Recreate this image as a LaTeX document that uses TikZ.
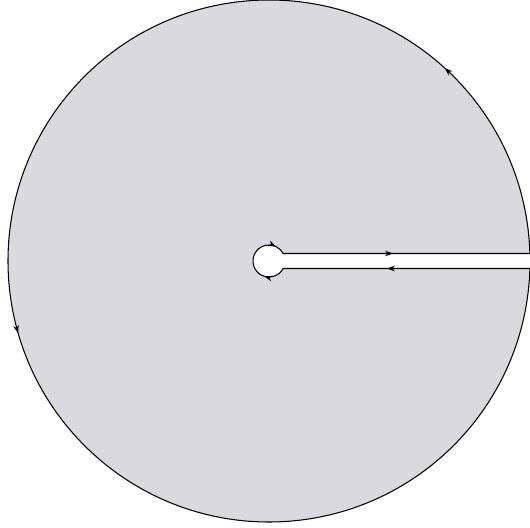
\documentclass[tikz,border=0pt]{standalone}
\usepackage{tikz}
\usetikzlibrary{arrows.meta,decorations.markings,calc}
\definecolor{diskgray}{RGB}{218,217,222}

\begin{document}
\begin{tikzpicture}[x=0.02cm,y=0.02cm,>={Stealth[length=4.5pt,width=3.2pt]},
    flow/.style={line width=0.6pt,decoration={markings,#1},postaction={decorate}}]
  \useasboundingbox (-269,-266) rectangle (261,261);
  % keyhole corners
  \coordinate (inup) at (28:16);
  \coordinate (outup) at (1.65:261);
  \coordinate (outlow) at (-1.65:261);
  \coordinate (inlow) at (-28:16);
  \fill[diskgray] (inup) -- (outup) arc[start angle=1.65,end angle=358.35,radius=261]
     -- (inlow) arc[start angle=-28,end angle=-332,radius=16] -- cycle;
  \draw[flow={mark=at position 0.445 with {\arrow{>}}}] (inup) -- (outup);
  \draw[flow={mark=at position 0.129 with {\arrow{>}},
              mark=at position 0.545 with {\arrow{>}}}]
     (outup) arc[start angle=1.65,end angle=358.35,radius=261];
  \draw[flow={mark=at position 0.579 with {\arrow{>}}}] (outlow) -- (inlow);
  \draw[flow={mark=at position 0.26 with {\arrow{>}},
              mark=at position 0.88 with {\arrow{>}}}]
     (inlow) arc[start angle=-28,end angle=-332,radius=16];
\end{tikzpicture}
\end{document}
